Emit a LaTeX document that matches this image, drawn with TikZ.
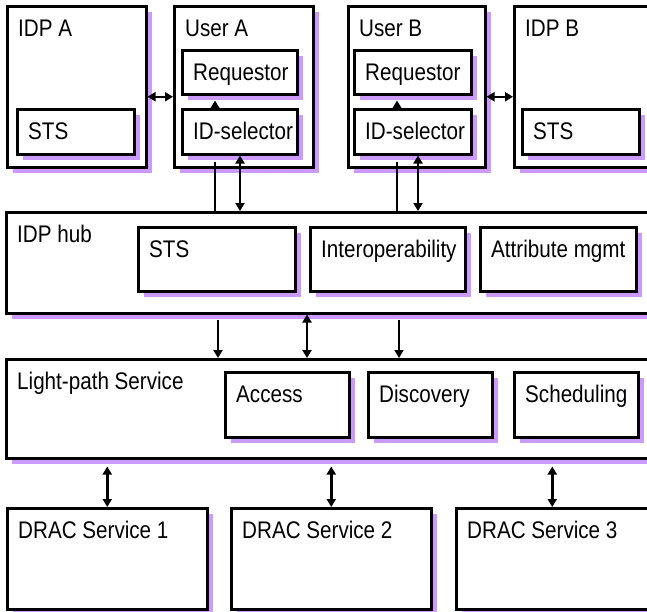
\documentclass[tikz,border=0pt]{standalone}
\usepackage{fontspec}
\setmainfont{Liberation Sans}[FakeStretch=0.86]
\usepackage{xcolor}
\usetikzlibrary{arrows.meta, calc}
\definecolor{lilac}{RGB}{204,153,255}
\tikzstyle{block}=[draw, line width=2.5pt, fill=white, inner sep=0pt, anchor=north west,
  preaction={fill=lilac, transform canvas={xshift=5.5pt, yshift=-5.5pt}}]
\tikzstyle{tag}=[anchor=base west, inner sep=0pt, font=\fontsize{24}{28}\selectfont]
\tikzstyle{wire}=[line width=2.5pt]
\tikzstyle{feed}=[line width=2.5pt, -{Triangle[length=8pt,width=9pt]}]
\tikzstyle{link}=[line width=2.5pt, {Triangle[length=8pt,width=9pt]}-{Triangle[length=8pt,width=9pt]}]

\begin{document}
\begin{tikzpicture}[x=1pt, y=-1pt]
        \useasboundingbox (0,0) rectangle (647,611);
        % top row
        \node[block, minimum width=139pt, minimum height=161pt] (idpA) at (6,5) {};
        \node[block, minimum width=139pt, minimum height=161pt] (userA) at (173,5) {};
        \node[block, minimum width=137pt, minimum height=161pt] (userB) at (347,5) {};
        \node[block, minimum width=134pt, minimum height=161pt] (idpB) at (513,5) {};
        \node[block, minimum width=117pt, minimum height=45pt] (stsA) at (16,108) {};
        \node[block, minimum width=115pt, minimum height=44pt] (reqA) at (181,49) {};
        \node[block, minimum width=115pt, minimum height=45pt] (selA) at (181,108) {};
        \node[block, minimum width=117pt, minimum height=44pt] (reqB) at (353,49) {};
        \node[block, minimum width=117pt, minimum height=45pt] (selB) at (353,108) {};
        \node[block, minimum width=117pt, minimum height=45pt] (stsB) at (521,108) {};
        % hub
        \node[block, minimum width=642pt, minimum height=101pt] (hub) at (5,211) {};
        \node[block, minimum width=157pt, minimum height=64pt] (hubsts) at (137,226) {};
        \node[block, minimum width=155pt, minimum height=64pt] (interop) at (309,226) {};
        \node[block, minimum width=156pt, minimum height=64pt] (attr) at (479,226) {};
        % light-path
        \node[block, minimum width=642pt, minimum height=99pt] (light) at (5,358) {};
        \node[block, minimum width=124pt, minimum height=65pt] (access) at (224,371) {};
        \node[block, minimum width=124pt, minimum height=65pt] (disc) at (367,371) {};
        \node[block, minimum width=124pt, minimum height=65pt] (sched) at (513,371) {};
        % drac
        \node[block, minimum width=200pt, minimum height=101pt] (drac1) at (6,507) {};
        \node[block, minimum width=200pt, minimum height=101pt] (drac2) at (230,507) {};
        \node[block, minimum width=192pt, minimum height=101pt] (drac3) at (455,507) {};

        \foreach \b/\t in {idpA/IDP A, userA/User A, userB/User B, idpB/IDP B,
            stsA/STS, reqA/Requestor, selA/ID-selector, reqB/Requestor, selB/ID-selector, stsB/STS,
            hub/IDP hub, hubsts/STS, interop/Interoperability, attr/Attribute mgmt,
            light/Light-path Service, access/Access, disc/Discovery, sched/Scheduling,
            drac1/DRAC Service 1, drac2/DRAC Service 2, drac3/DRAC Service 3}
            \node[tag] (\b-t) at ($(\b.north west)+(12,31)$) {\t};

        \coordinate (xa) at (215,0); \coordinate (xb) at (240,0);
        \coordinate (xc) at (397,0); \coordinate (xd) at (418,0);
        \coordinate (xe) at (218,0); \coordinate (xf) at (307,0); \coordinate (xg) at (399,0);

        \draw[link] ($(idpA.east)+(0,10)$) -- ($(userA.west)+(0,10)$);
        \draw[link] ($(userB.east)+(0,10)$) -- ($(idpB.west)+(0,10)$);
        \draw[feed] (selA.north -| xa) -- ($(reqA.south -| xa)+(0,5)$);
        \draw[feed] (selB.north -| xc) -- ($(reqB.south -| xc)+(0,5)$);
        \draw[wire] ($(selA.south -| xa)+(0,6)$) -- (hub.north -| xa);
        \draw[link] (selA.south -| xb) -- (hub.north -| xb);
        \draw[wire] ($(selB.south -| xc)+(0,6)$) -- (hub.north -| xc);
        \draw[link] (selB.south -| xd) -- (hub.north -| xd);

        \draw[feed] ($(hub.south -| xe)+(0,5)$) -- (light.north -| xe);
        \draw[link] (hub.south -| xf) -- (light.north -| xf);
        \draw[feed, line width=1.4pt] ($(hub.south -| xg)+(0,5)$) -- (light.north -| xg);

        \foreach \d in {drac1,drac2,drac3}
            \draw[link] ($(light.south -| \d.north)+(0,7)$) -- (\d.north);
\end{tikzpicture}
\end{document}
